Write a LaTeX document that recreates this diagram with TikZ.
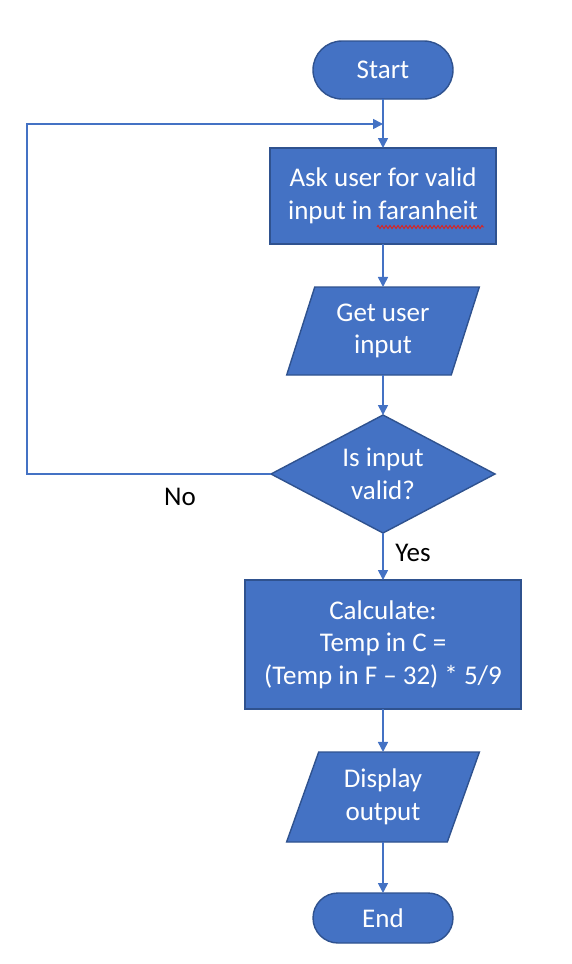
\documentclass[tikz,border=0pt]{standalone}
\usepackage{fontspec}
\setmainfont{Carlito}
\usetikzlibrary{arrows.meta,shapes.geometric,decorations.pathmorphing}
\definecolor{boxfill}{HTML}{4472C4}
\definecolor{boxline}{HTML}{2F528F}
\definecolor{spell}{HTML}{E0201B}
\begin{document}
\begin{tikzpicture}[x=1pt,y=-1pt,
  base/.style={draw=boxline,fill=boxfill,line width=1.4pt,text=white,
    font=\fontsize{27}{32.5}\selectfont,align=center,inner sep=0pt,outer sep=0pt},
  terminal/.style={base,rounded corners=29pt,minimum width=140pt,minimum height=58pt},
  process/.style={base,rectangle},
  io/.style={base,trapezium,trapezium left angle=70.6,trapezium right angle=109.4,
    trapezium stretches=true},
  decision/.style={base,diamond,aspect=1.9,minimum width=224pt,minimum height=118pt},
  flow/.style={draw=boxfill,line width=1.6pt,-{Triangle[length=10pt,width=10pt]}},
  lbl/.style={font=\fontsize{27}{32.5}\selectfont,text=black,inner sep=0pt}]
\useasboundingbox (0,0) rectangle (572,964);
\node[terminal] (start) at (383,70) {Start};
\node[process,minimum width=226pt,minimum height=96pt] (ask) at (383,196)
  {Ask user for valid\\input in faranheit};
\node[io,minimum width=193pt,minimum height=88pt] (get) at (383,331) {Get user\\input};
\node[decision] (dec) at (383,474) {Is input\\valid?};
\node[process,minimum width=276pt,minimum height=129pt] (calc) at (383,644.5)
  {Calculate:\\Temp in C =\\(Temp in F -- 32) * 5/9};
\node[io,minimum width=193pt,minimum height=90pt] (disp) at (383,797) {Display\\output};
\node[terminal,minimum height=50pt,rounded corners=25pt] (end) at (383,918) {End};
\coordinate (join) at (383,124);
\coordinate (corner) at (27,124);
\draw[flow] (start) -- (ask);
\draw[flow] (ask) -- (get);
\draw[flow] (get) -- (dec);
\draw[flow] (dec) -- (calc);
\draw[flow] (calc) -- (disp);
\draw[flow] (disp) -- (end);
\draw[flow] (dec.west) -| (corner) -- (join);
\node[lbl] (no) at (180,497) {No};
\node[lbl] (yes) at (413,553) {Yes};
\draw[spell,line width=0.9pt,decorate,decoration={zigzag,segment length=4pt,amplitude=1.6pt}]
  (377,227) -- (484,227);
\end{tikzpicture}
\end{document}
